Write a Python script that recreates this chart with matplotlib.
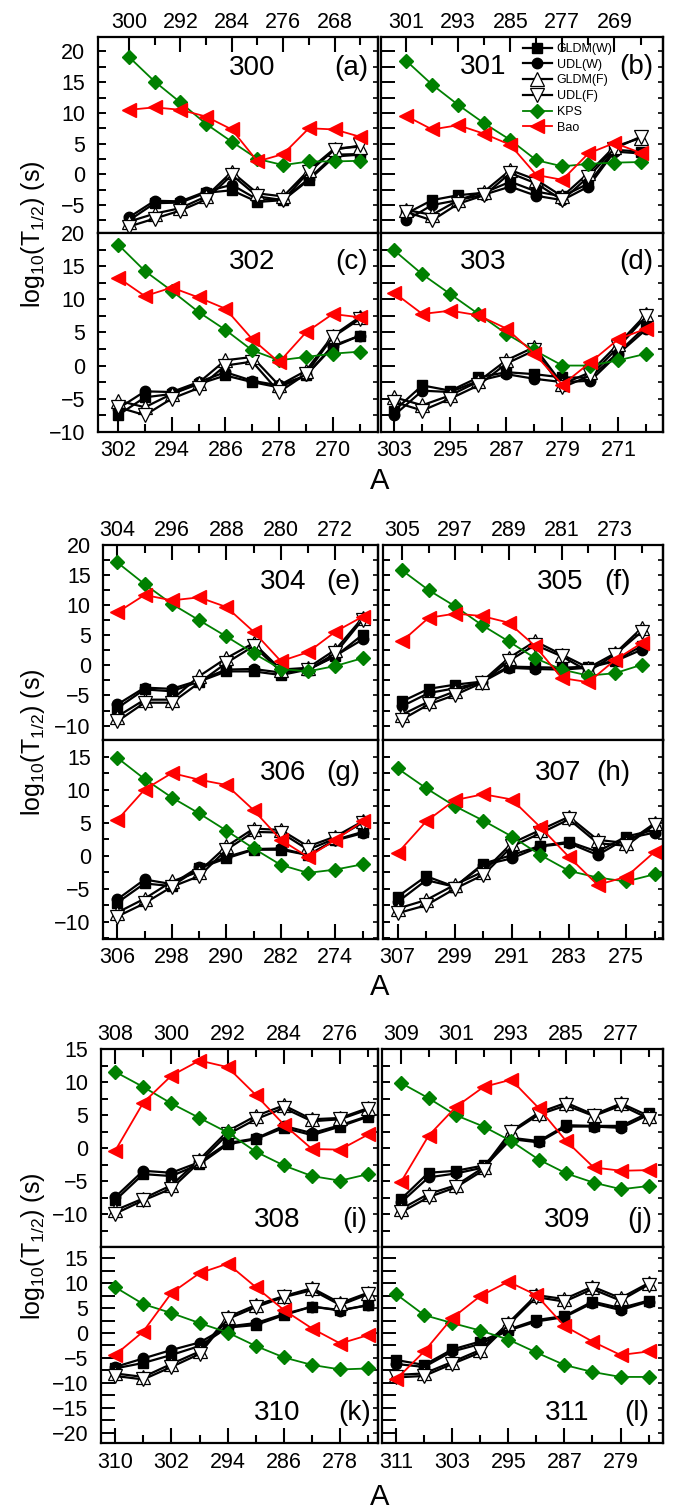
import numpy as np
import matplotlib
matplotlib.use("Agg")
import matplotlib.pyplot as plt
from matplotlib.ticker import MultipleLocator, NullFormatter

plt.rcParams['font.family'] = ['Liberation Sans', 'DejaVu Sans']
plt.rcParams['mathtext.fontset'] = 'custom'
plt.rcParams['mathtext.rm'] = 'Liberation Sans'
plt.rcParams['mathtext.it'] = 'Liberation Sans:italic'

# parent nuclei (panel titles) and panel tags
parents = [300, 301, 302, 303, 304, 305, 306, 307, 308, 309, 310, 311]
tags = ['(a)', '(b)', '(c)', '(d)', '(e)', '(f)', '(g)', '(h)', '(i)', '(j)', '(k)', '(l)']
a_step = 4          # daughter mass spacing
n_pts = 10

# log10(T1/2) values, one row per panel (a..l), daughters A_p, A_p-4, ..., A_p-36
gldm_w = [
    [-7.5, -4.7, -4.6, -3.0, -2.6, -4.5, -4.2, -0.9, 2.9, 3.2],
    [-6.4, -4.2, -3.4, -3.0, -1.2, -2.8, -3.6, -1.5, 4.0, 3.7],
    [-7.5, -4.8, -4.3, -2.8, -1.5, -2.5, -3.3, -1.5, 2.8, 4.5],
    [-6.8, -3.0, -3.8, -1.8, -1.0, -1.3, -1.8, -1.8, 2.0, 6.0],
    [-7.1, -4.0, -4.3, -2.7, -1.0, -1.0, -1.6, -0.7, 1.5, 5.1],
    [-6.0, -3.9, -3.2, -2.7, -0.2, -0.3, -0.4, -0.2, 0.8, 3.2],
    [-7.1, -4.2, -4.6, -1.9, -0.4, 0.9, 0.9, 0.1, 2.4, 3.6],
    [-6.2, -3.1, -4.7, -1.2, 0.1, 1.5, 2.1, 0.6, 2.9, 3.9],
    [-7.9, -3.9, -4.2, -2.4, 0.6, 1.4, 3.1, 2.0, 3.3, 4.8],
    [-7.7, -3.7, -3.4, -2.6, 1.6, 1.1, 3.5, 3.4, 3.4, 5.4],
    [-7.1, -6.0, -4.4, -2.6, 1.1, 1.6, 3.6, 5.3, 4.6, 5.6],
    [-5.4, -6.4, -3.3, -1.7, 0.7, 2.6, 3.4, 6.3, 5.0, 6.5],
]
udl_w = [
    [-7.0, -4.3, -4.4, -2.8, -1.7, -4.1, -4.1, -0.7, 3.2, 3.3],
    [-7.5, -5.0, -4.2, -3.3, -2.0, -3.5, -4.2, -2.0, 3.7, 3.4],
    [-6.5, -3.9, -4.0, -2.5, -1.0, -2.3, -3.0, -1.5, 3.0, 4.5],
    [-7.5, -3.8, -4.0, -2.3, -1.3, -2.0, -2.5, -2.3, 1.8, 5.5],
    [-6.5, -3.7, -3.9, -2.5, -0.7, -0.6, -1.2, -0.7, 1.6, 4.3],
    [-6.8, -4.6, -3.8, -2.8, -0.4, -0.6, -0.7, -0.4, 0.7, 2.6],
    [-6.6, -3.6, -4.3, -1.7, -0.2, 1.0, 1.1, 0.1, 2.3, 3.4],
    [-7.0, -3.7, -4.7, -1.4, -0.4, 1.4, 1.9, 0.1, 2.6, 3.5],
    [-7.4, -3.4, -3.7, -2.1, 0.8, 1.5, 3.4, 2.3, 3.5, 4.9],
    [-8.2, -4.4, -3.8, -2.9, 1.4, 0.9, 3.3, 3.3, 3.1, 5.1],
    [-6.8, -5.1, -3.4, -1.9, 1.3, 2.0, 3.8, 5.3, 4.5, 5.6],
    [-6.2, -6.8, -3.7, -2.2, 0.5, 2.3, 3.2, 6.0, 4.6, 6.3],
]
gldm_f = [
    [-7.7, -6.4, -5.5, -3.6, 0.4, -3.1, -3.6, 0.7, 4.2, 4.5],
    [-5.8, -6.6, -4.2, -2.8, 0.7, -0.9, -3.6, 0.2, 4.5, 5.9],
    [-5.3, -6.3, -4.3, -2.6, 0.8, 1.3, -3.0, -0.8, 4.5, 7.3],
    [-4.8, -6.0, -4.5, -2.4, 0.8, 2.8, -2.8, -1.0, 3.3, 7.8],
    [-8.5, -5.7, -5.7, -1.8, 1.2, 3.7, -0.7, -0.4, 2.6, 7.9],
    [-8.2, -6.0, -4.3, -2.7, 1.2, 4.0, 1.8, -0.4, 2.0, 6.2],
    [-8.6, -6.5, -3.9, -2.4, 1.4, 4.1, 3.9, 1.4, 2.9, 5.2],
    [-8.0, -6.7, -4.4, -2.4, 1.9, 3.9, 5.9, 2.4, 1.9, 4.9],
    [-9.4, -7.6, -5.6, -1.7, 2.6, 4.9, 6.5, 4.4, 4.6, 6.1],
    [-9.2, -6.9, -5.6, -2.9, 2.6, 5.4, 6.9, 5.1, 6.8, 4.9],
    [-8.1, -8.8, -6.2, -3.7, 3.2, 5.6, 7.4, 9.0, 6.0, 8.1],
    [-8.4, -8.1, -5.8, -3.4, 2.0, 7.6, 6.8, 9.3, 7.0, 10.0],
]
udl_f = [
    [-8.5, -7.2, -5.9, -4.1, -0.1, -3.6, -4.2, 0.4, 4.0, 4.7],
    [-6.1, -7.5, -4.8, -3.4, 0.2, -1.5, -4.2, -0.4, 4.2, 6.1],
    [-6.3, -7.5, -5.0, -3.4, 0.0, 0.6, -4.0, -1.3, 4.3, 7.0],
    [-5.5, -6.8, -5.0, -3.0, 0.3, 2.3, -3.3, -1.5, 2.8, 7.5],
    [-9.3, -6.2, -6.2, -2.9, 0.4, 3.2, -1.0, -0.7, 2.0, 7.6],
    [-9.0, -6.5, -4.9, -2.9, 0.7, 3.4, 1.5, -1.0, 1.8, 5.6],
    [-9.2, -7.2, -4.7, -3.1, 0.9, 3.6, 3.5, 0.9, 2.6, 5.0],
    [-8.7, -7.5, -5.0, -2.9, 1.4, 3.4, 5.5, 1.9, 1.5, 4.7],
    [-9.9, -7.9, -6.1, -2.1, 2.1, 4.4, 6.1, 4.1, 4.4, 5.9],
    [-9.7, -7.4, -5.9, -3.3, 2.4, 5.1, 6.5, 4.9, 6.5, 4.5],
    [-8.6, -9.3, -6.8, -4.2, 2.8, 5.2, 7.2, 8.6, 5.6, 7.8],
    [-8.9, -8.6, -6.2, -3.9, 1.6, 7.2, 6.3, 8.8, 6.5, 9.7],
]
kps = [
    [19.1, 15.1, 11.7, 8.2, 5.3, 2.5, 1.5, 2.1, 2.1, 2.2],
    [18.5, 14.6, 11.3, 8.3, 5.6, 2.3, 1.3, 1.7, 1.9, 2.0],
    [18.3, 14.3, 11.3, 8.1, 5.4, 2.3, 0.8, 1.3, 1.8, 2.1],
    [17.4, 13.8, 10.8, 7.8, 4.8, 2.3, 0.0, 0.0, 0.8, 1.8],
    [17.1, 13.5, 10.2, 7.5, 4.8, 2.0, -0.6, -1.0, -0.1, 1.2],
    [15.8, 12.5, 9.8, 6.7, 4.0, 1.2, -0.7, -1.7, -1.3, 0.1],
    [14.8, 11.6, 8.8, 6.4, 3.8, 1.1, -1.4, -2.6, -2.1, -1.3],
    [13.2, 10.2, 7.5, 5.3, 2.9, 0.1, -2.3, -3.3, -3.9, -2.8],
    [11.6, 9.3, 6.8, 4.6, 2.4, -0.5, -2.6, -4.2, -4.9, -3.9],
    [9.9, 7.6, 5.0, 3.3, 1.1, -1.7, -3.8, -5.2, -6.2, -5.7],
    [9.2, 5.8, 4.0, 2.0, 0.1, -2.6, -4.9, -6.4, -7.3, -7.1],
    [7.8, 3.6, 2.0, 0.5, -1.3, -3.9, -6.4, -7.8, -8.8, -8.8],
]
bao = [
    [10.5, 10.9, 10.5, 9.4, 7.3, 2.1, 3.3, 7.5, 7.3, 6.1],
    [9.5, 7.3, 8.0, 6.6, 4.8, -0.1, -0.9, 3.4, 5.1, 3.5],
    [13.3, 10.5, 11.8, 10.3, 8.6, 4.0, 0.5, 5.0, 7.8, 7.3],
    [11.0, 7.8, 8.3, 7.6, 5.6, 1.8, -2.9, 0.5, 4.0, 5.6],
    [8.8, 11.7, 10.8, 11.3, 9.7, 5.6, 0.7, 2.2, 5.6, 8.1],
    [4.0, 7.9, 8.6, 8.2, 7.1, 3.2, -2.1, -2.8, 0.9, 3.7],
    [5.4, 10.0, 12.5, 11.5, 10.7, 6.9, 2.4, -0.2, 2.4, 5.2],
    [0.4, 5.2, 8.4, 9.3, 8.5, 4.3, -0.2, -4.4, -3.2, 0.6],
    [-0.4, 6.9, 11.0, 13.3, 12.3, 8.1, 3.6, -0.1, -0.2, 2.1],
    [-5.1, 1.9, 6.3, 9.3, 10.4, 6.1, 1.1, -2.9, -3.4, -3.3],
    [-4.4, 0.3, 8.0, 12.0, 13.9, 9.2, 4.6, 0.9, -2.1, -0.4],
    [-9.3, -3.7, 3.0, 7.4, 10.3, 7.6, 1.4, -1.7, -4.4, -3.7],
]

W, H = 673, 1511
fig = plt.figure(figsize=(W / 100, H / 100), dpi=100)

# panel boxes in pixels (x0, y0, x1, y1)
boxes = [
    (97.5, 36.7, 378.3, 233.3), (381, 36.7, 663.3, 233.3),
    (97.5, 233.3, 378.3, 431.7), (381, 233.3, 663.3, 431.7),
    (103.3, 545, 378.3, 740), (383, 545, 663.3, 740),
    (103.3, 740, 378.3, 939), (383, 740, 663.3, 939),
    (101, 1049.3, 378.3, 1246.7), (381.7, 1049.3, 663.3, 1246.7),
    (101, 1246.7, 378.3, 1443.3), (381.7, 1246.7, 663.3, 1443.3),
]
xlims = [(304.9, 261.2), (304.85, 261.5), (305.07, 263.2), (304.9, 264.6),
         (306.06, 265.7), (307.85, 265.76), (308.06, 267.7), (309.05, 269.8),
         (310.0, 270.57), (311.8, 270.9), (312.0, 272.6), (313.05, 272.9)]
ylims = [(-9.6, 22.4), (-9.6, 22.4), (-10, 20), (-10, 20),
         (-12.4, 20), (-12.4, 20), (-12.6, 17.5), (-12.6, 17.5),
         (-14.9, 15), (-14.9, 15), (-22.1, 17.3), (-22.1, 17.3)]
ytick_len = [5.5, 10, 5.5, 10, 5, 5, 4, 5, 5, 6, 10, 10]
# centre pixel of the nucleus label and the panel tag
name_xy = [(251.7, 68), (483, 67), (251.7, 262), (483.3, 262),
           (282.7, 582), (560, 582), (282.7, 773), (558.3, 773),
           (276.7, 1220), (566.7, 1220), (276.7, 1413), (566.7, 1413)]
tag_xy = [(351.7, 68), (636.7, 67), (351.7, 262), (636.7, 262),
          (343.3, 582), (617.7, 582), (343.3, 773), (613.3, 773),
          (355, 1220), (640, 1220), (355, 1413), (636.7, 1413)]

series = [
    ('GLDM(W)', gldm_w, dict(color='k', marker='s', mfc='k', mec='k', ms=7, lw=1.6)),
    ('UDL(W)', udl_w, dict(color='k', marker='o', mfc='k', mec='k', ms=7.5, lw=1.6)),
    ('GLDM(F)', gldm_f, dict(color='k', marker='^', mfc='w', mec='k', ms=10, mew=0.9, lw=1.6)),
    ('UDL(F)', udl_f, dict(color='k', marker='v', mfc='w', mec='k', ms=10, mew=0.9, lw=1.6)),
    ('KPS', kps, dict(color='#008000', marker='D', mfc='#008000', mec='#008000', ms=7, lw=1.3)),
    ('Bao', bao, dict(color='#ff0000', marker='<', mfc='#ff0000', mec='#ff0000', ms=10, lw=1.3)),
]

axes = []
for i, ap in enumerate(parents):
    x0, y0, x1, y1 = boxes[i]
    ax = fig.add_axes([x0 / W, 1 - y1 / H, (x1 - x0) / W, (y1 - y0) / H])
    axes.append(ax)
    A = np.arange(ap, ap - a_step * n_pts, -a_step)
    for name, vals, st in series:
        ax.plot(A, vals[i], label=name, **st)

    ax.set_xlim(*xlims[i])
    ax.set_ylim(*ylims[i])
    ax.set_xticks(np.arange(ap, ap - a_step * n_pts, -2 * a_step))
    ax.set_xticks(np.arange(ap - a_step, ap - a_step * n_pts, -2 * a_step), minor=True)
    ax.yaxis.set_major_locator(MultipleLocator(5))
    ax.yaxis.set_minor_locator(MultipleLocator(2.5))

    top_row = (i // 2) % 2 == 0
    left_col = i % 2 == 0
    if top_row:
        ax.tick_params(axis='x', which='both', direction='in', bottom=False, top=True,
                       labelbottom=False, labeltop=True, pad=3)
    else:
        ax.tick_params(axis='x', which='both', direction='in', bottom=True, top=False,
                       labelbottom=True, labeltop=False, pad=6)
    ax.tick_params(axis='x', which='major', length=11, width=1.5, labelsize=15.5)
    ax.tick_params(axis='x', which='minor', length=5.5, width=1.5)
    ax.tick_params(axis='y', which='both', direction='in', left=True, right=False,
                   length=ytick_len[i], width=1.4, labelleft=left_col, labelsize=15.5, pad=9)

    sec = ax.secondary_yaxis('right')
    sec.yaxis.set_major_locator(MultipleLocator(5))
    sec.yaxis.set_minor_locator(MultipleLocator(2.5))
    sec.yaxis.set_major_formatter(NullFormatter())
    sec.tick_params(axis='y', which='both', direction='in', length=3.5, width=1.2)
    sec.spines['right'].set_linewidth(1.6)

    for sp in ax.spines.values():
        sp.set_linewidth(1.6)

    fig.text(name_xy[i][0] / W, 1 - name_xy[i][1] / H, str(ap), fontsize=20,
             ha='center', va='center')
    fig.text(tag_xy[i][0] / W, 1 - tag_xy[i][1] / H, tags[i], fontsize=20,
             ha='center', va='center')

axes[1].legend(loc='upper left', bbox_to_anchor=(523 / W, 1 - 43 / H),
               bbox_transform=fig.transFigure, frameon=False, fontsize=9,
               numpoints=1, handlelength=2.3, handletextpad=0.4,
               labelspacing=0.3, borderpad=0, borderaxespad=0)

# y labels and x labels per group
ylab = r'log$_{10}$(T$_{1/2}$) (s)'
for yc in [234.2, 742, 1246.3]:
    fig.text(33 / W, 1 - yc / H, ylab, rotation=90, fontsize=18, ha='center', va='center')
for ya in [481, 987, 1497]:
    fig.text(380 / W, 1 - ya / H, 'A', fontsize=21, ha='center', va='center')

fig.savefig('out.png', dpi=100)
